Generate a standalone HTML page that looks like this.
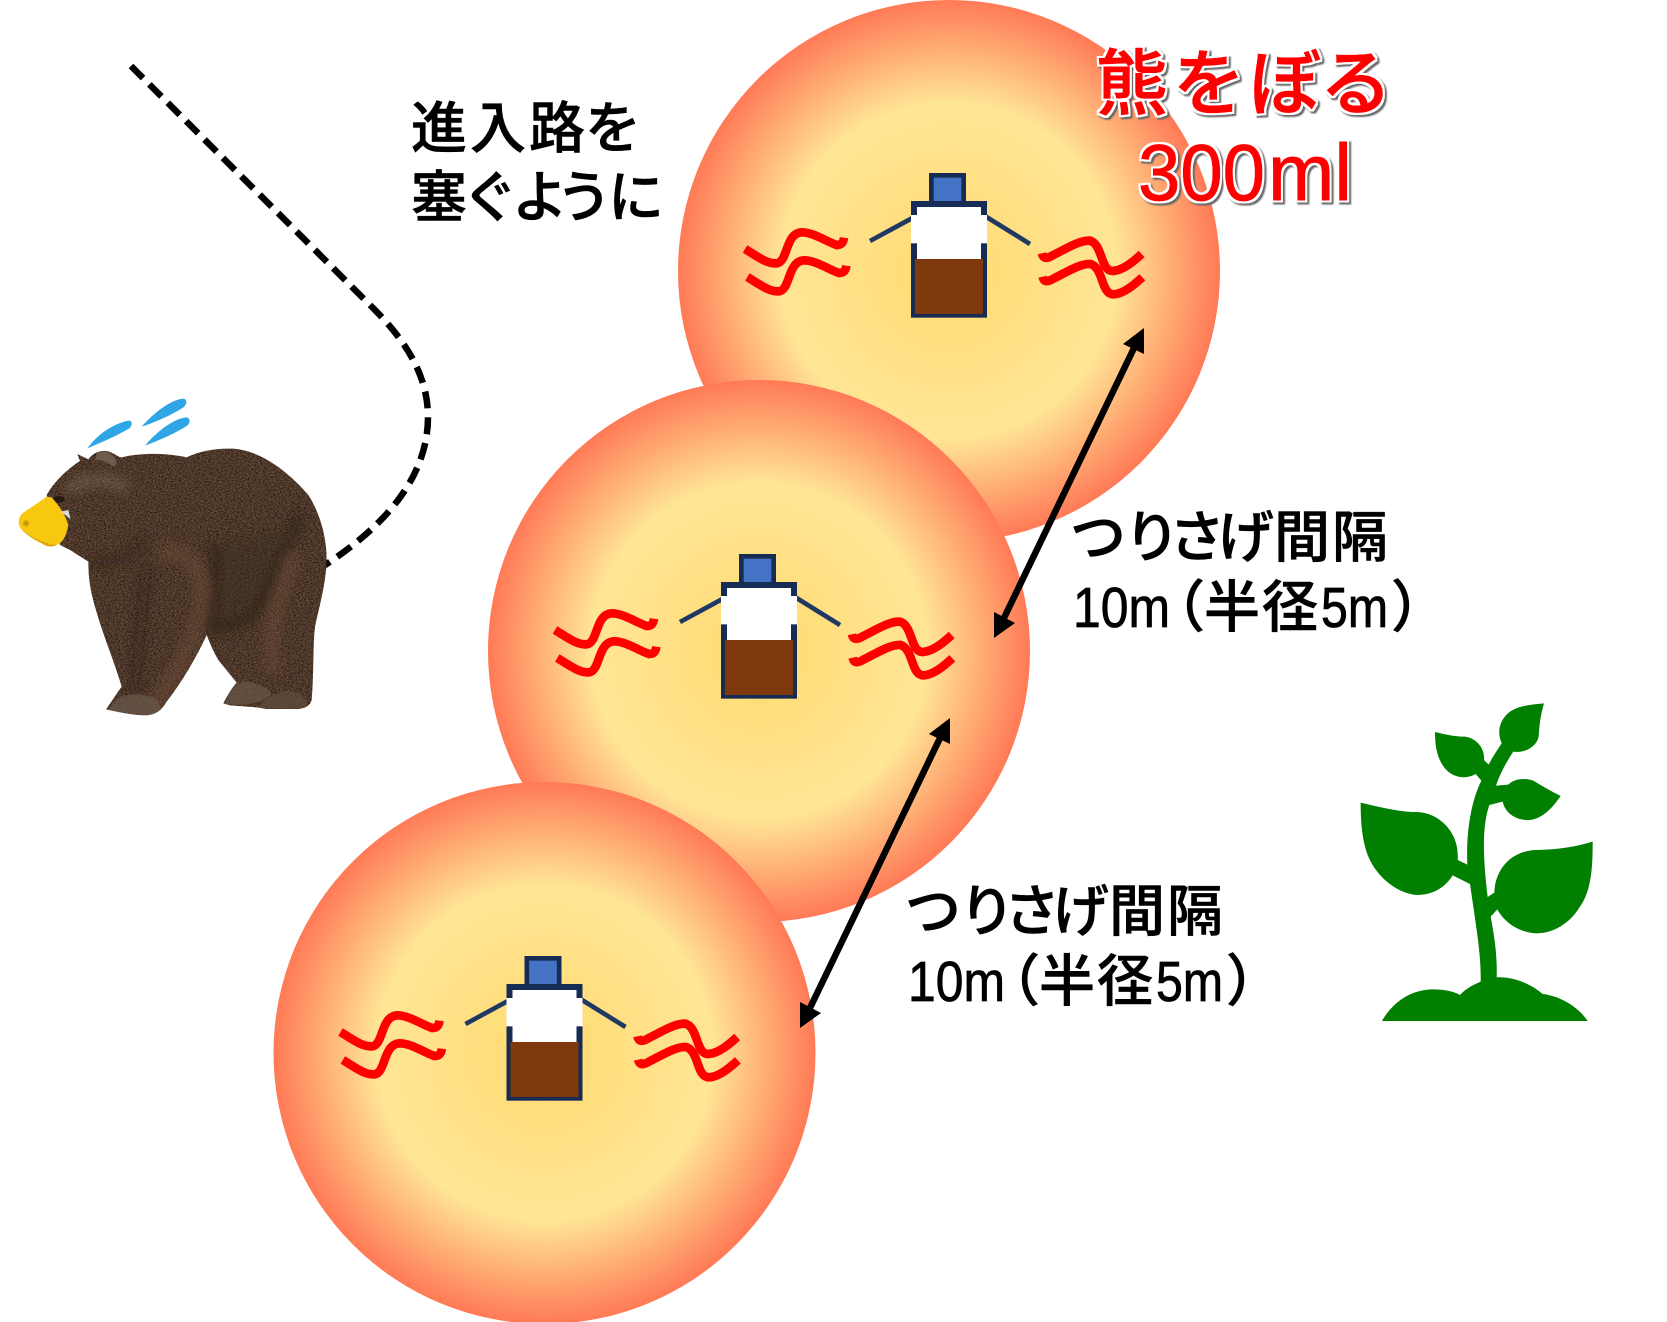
<!DOCTYPE html>
<html><head><meta charset="utf-8"><style>
html,body{margin:0;padding:0;background:#fff}
svg{display:block}
.t{font-family:"Liberation Sans","Noto Sans CJK JP",sans-serif;font-size:56px;font-weight:500;fill:#000;stroke:#000;stroke-width:.6px}
.n{font-family:"Liberation Sans",sans-serif;font-size:57px;fill:#000;stroke:#000;stroke-width:.8px}
.r{font-family:"Liberation Sans","Noto Sans CJK JP",sans-serif;font-weight:500;fill:#f00;stroke:#f00;stroke-width:1px}
</style></head><body>
<svg width="1667" height="1322" viewBox="0 0 1667 1322" xmlns="http://www.w3.org/2000/svg">
<defs>
<radialGradient id="g"><stop offset="0" stop-color="#ffda6f"/><stop offset=".62" stop-color="#ffe596"/><stop offset="1" stop-color="#ff7a56"/></radialGradient>
<filter id="sh" x="-10%" y="-15%" width="120%" height="130%">
<feMorphology in="SourceAlpha" operator="dilate" radius="2.2" result="m"/>
<feFlood flood-color="#fff"/><feComposite in2="m" operator="in" result="w"/>
<feOffset in="m" dx="2" dy="2" result="o"/><feGaussianBlur in="o" stdDeviation=".8" result="ob"/>
<feFlood flood-color="#666"/><feComposite in2="ob" operator="in" result="gr"/>
<feMerge><feMergeNode in="gr"/><feMergeNode in="w"/><feMergeNode in="SourceGraphic"/></feMerge>
</filter>
<filter id="fur" x="0" y="0" width="100%" height="100%" color-interpolation-filters="sRGB">
<feTurbulence type="fractalNoise" baseFrequency="0.16 0.28" numOctaves="2" seed="4" result="n"/>
<feColorMatrix in="n" type="matrix" values="0 0 0 0 .13  0 0 0 0 .09  0 0 0 0 .06  3 0 0 0 -1.3" result="d"/>
<feTurbulence type="fractalNoise" baseFrequency="0.2 0.3" numOctaves="2" seed="9" result="n2"/>
<feColorMatrix in="n2" type="matrix" values="0 0 0 0 .52  0 0 0 0 .36  0 0 0 0 .27  3 0 0 0 -1.45" result="l"/>
<feMerge result="all"><feMergeNode in="SourceGraphic"/><feMergeNode in="d"/><feMergeNode in="l"/></feMerge>
</filter>
<filter id="bl"><feGaussianBlur stdDeviation="14"/></filter>
<clipPath id="bc"><path d="M140,345C165,300 210,262 240,243L232,222L265,238C275,222 300,208 325,214C345,220 355,232 365,232C420,218 500,218 560,232C600,212 650,204 700,206C780,212 860,270 925,345C960,400 980,470 980,540C978,610 958,680 945,740C938,800 942,880 935,960C930,978 915,985 895,987L800,987L770,982L690,976L670,970C680,950 695,925 710,908L655,840C640,815 630,790 620,765C590,830 550,900 500,965C485,990 470,1003 440,1006C400,1006 350,995 318,988C335,965 350,940 365,920C345,850 310,770 285,680C270,630 265,590 265,545L210,510L180,495L140,345Z"/></clipPath>
<g id="unit">
<g transform="translate(720,150) scale(.33333)">
<g fill="none" stroke="#f00" stroke-width="26">
<path d="M75,297C110,318 140,342 170,340C205,335 195,250 245,247C280,247 320,275 350,285C365,285 370,278 372,263"/>
<path d="M82,381C117,402 147,426 177,424C212,419 202,334 252,331C287,331 327,359 357,369C372,369 377,362 379,347"/>
<path d="M966,310C970,328 982,326 1000,315C1040,295 1080,270 1110,272C1150,285 1140,365 1180,363C1210,360 1240,335 1265,312"/>
<path d="M968,380C972,398 984,396 1002,385C1042,365 1082,340 1112,342C1152,355 1142,435 1182,433C1212,430 1242,405 1267,382"/>
</g>
<path d="M450,273L590,197M790,195L930,282" stroke="#1f3864" stroke-width="14" fill="none"/>
<rect x="634" y="76" width="97" height="84" fill="#4472c4" stroke="#172c54" stroke-width="14"/>
<rect x="582" y="162" width="210" height="332" fill="#fff" stroke="#172c54" stroke-width="18"/>
<rect x="573" y="195" width="228" height="85" fill="#fff"/>
<rect x="585" y="327" width="204" height="165" fill="#7f390d"/>
</g>
</g>
<g id="arrow">
<path d="M1135,346L1003,620" fill="none" stroke="#000" stroke-width="6.5"/>
<path d="M1144,328L1144,354L1123,344ZM994,638L994,612L1015,623Z" fill="#000"/>
</g>
</defs>
<rect width="1667" height="1322" fill="#fff"/>

<circle cx="949" cy="271" r="271" fill="url(#g)"/>
<circle cx="759" cy="651" r="271" fill="url(#g)"/>
<circle cx="544.5" cy="1053" r="271" fill="url(#g)"/>

<use href="#unit"/>
<use href="#unit" transform="translate(-190,381)"/>
<use href="#unit" transform="translate(-404.5,783)"/>

<use href="#arrow"/>
<use href="#arrow" transform="translate(-194,390)"/>

<!-- dashed path -->
<path d="M131,66L372,307C402,337 428,372 428,417C428,472 392,522 322,567" fill="none" stroke="#000" stroke-width="6.5" stroke-dasharray="17 9"/>

<!-- bear -->
<g transform="translate(0,380) scale(.33333)">
<path d="M262,205C290,165 340,130 385,122C398,122 398,135 388,145C355,165 310,185 262,205Z" fill="#2ea6e6"/>
<path d="M425,140C460,100 510,60 550,56C562,58 562,72 550,82C515,105 470,125 425,140Z" fill="#2ea6e6"/>
<path d="M435,197C465,160 515,118 558,112C572,114 572,128 560,138C525,160 480,180 435,197Z" fill="#2ea6e6"/>
<g clip-path="url(#bc)">
<rect x="120" y="190" width="880" height="830" fill="#4d392c" filter="url(#fur)"/>
<g filter="url(#bl)" fill="none">
<path d="M640,490C650,600 640,680 625,745C700,750 770,720 800,640C830,560 870,490 900,400" stroke="#2a1d15" stroke-width="34" opacity=".55"/>
<path d="M640,500C660,600 650,680 630,750L760,720C800,640 840,520 860,450Z" fill="#33251b" opacity=".35"/>
<path d="M270,540C330,560 380,540 440,480" stroke="#2a1d15" stroke-width="26" opacity=".5"/>
<path d="M440,560C420,700 420,820 400,940" stroke="#2a1d15" stroke-width="24" opacity=".45"/>
<path d="M200,330C260,290 340,290 380,330" stroke="#806a58" stroke-width="40" opacity=".45"/>
<path d="M480,520C560,500 620,560 600,700C570,820 500,930 460,980" stroke="#7c553f" stroke-width="50" opacity=".35"/>
<path d="M880,520C850,640 800,720 820,880" stroke="#7c553f" stroke-width="45" opacity=".35"/>
</g>
<path d="M325,990C350,940 400,935 450,950C480,960 490,985 470,1005L400,1010Z" fill="#6b5a4c" opacity=".7"/>
<path d="M675,972C690,930 710,900 745,905C785,915 815,925 810,945C790,965 750,980 675,972Z" fill="#6b5a4c" opacity=".65"/>
<path d="M775,984C800,945 840,930 880,935C920,945 925,975 915,988Z" fill="#66503f" opacity=".6"/>
<path d="M290,222C300,210 325,212 340,228C355,245 350,262 335,258C315,240 300,240 285,240Z" fill="#6f5a4b"/>
</g>
<ellipse cx="176" cy="358" rx="18" ry="10" fill="#241a14"/>
<path d="M140,350L155,352C175,375 195,400 205,435C200,465 190,485 175,492C165,500 150,502 135,495C110,480 80,465 62,445C52,430 55,410 70,398C90,385 120,365 140,350Z" fill="#f8c70f"/>
<path d="M62,445C90,470 130,490 170,495C155,503 140,500 125,490C100,478 75,462 62,445Z" fill="#dca908"/>
<circle cx="78" cy="430" r="10" fill="#d8ab0c"/><circle cx="78" cy="430" r="4" fill="#a88510"/>
<path d="M182,395L205,390L212,418L196,405Z" fill="#d8d8d8"/>
</g>

<!-- plant -->
<g transform="translate(1340,690) scale(.33333)" fill="#007f00">
<path d="M126,993C155,940 210,898 280,898C310,898 340,903 360,915C378,895 400,885 422,875C424,800 410,720 390,582L338,556C310,600 270,615 230,615C170,610 110,560 85,500C65,450 62,390 62,338C120,352 180,366 230,366C300,368 360,430 353,510L382,524C378,440 390,340 424,272L407,252C380,268 340,265 315,235C290,205 285,165 285,126C320,135 350,140 375,140C410,145 435,175 432,210L446,224C458,200 472,180 485,160C470,125 478,90 510,65C540,45 575,44 612,40C600,80 598,110 596,140C590,170 555,190 520,185C500,215 480,250 468,287L505,284C520,268 550,262 580,272C610,290 635,305 662,318C640,350 610,385 570,390C530,393 495,370 488,335L448,345C430,400 425,470 443,621L463,608C465,540 510,485 585,480C650,480 710,470 758,455C758,530 755,600 720,650C690,700 640,730 590,730C540,728 495,700 472,658L452,680C465,750 472,800 470,862C520,860 570,880 608,912C660,918 715,950 743,993Z"/>
</g>

<!-- text -->
<text class="t" y="148" x="411 470 529 585">進入路を</text>
<text class="t" y="217" x="411 462 512 556 608">塞ぐように</text>

<g>
<text class="t" y="557" x="1070 1124 1169 1218 1274 1332">つりさげ間隔</text>
<text class="n" x="1073" y="627" textLength="97" lengthAdjust="spacingAndGlyphs">10m</text>
<text class="t" y="627" x="1149 1204 1262">（半径</text>
<text class="n" x="1321" y="627" textLength="67" lengthAdjust="spacingAndGlyphs">5m</text>
<text class="t" y="627" x="1391">）</text>
</g>
<g transform="translate(-165,374)">
<text class="t" y="557" x="1070 1124 1169 1218 1274 1332">つりさげ間隔</text>
<text class="n" x="1073" y="627" textLength="97" lengthAdjust="spacingAndGlyphs">10m</text>
<text class="t" y="627" x="1149 1204 1262">（半径</text>
<text class="n" x="1321" y="627" textLength="67" lengthAdjust="spacingAndGlyphs">5m</text>
<text class="t" y="627" x="1391">）</text>
</g>

<g filter="url(#sh)">
<text class="r" y="109" style="font-size:72px" x="1096 1173 1249 1320">熊をぼる</text>
<text class="r" x="1138" y="200" style="font-size:80px" textLength="127" lengthAdjust="spacingAndGlyphs">300</text>
<text class="r" x="1268" y="200" style="font-size:80px" textLength="84" lengthAdjust="spacingAndGlyphs">ml</text>
</g>
</svg>
</body></html>
